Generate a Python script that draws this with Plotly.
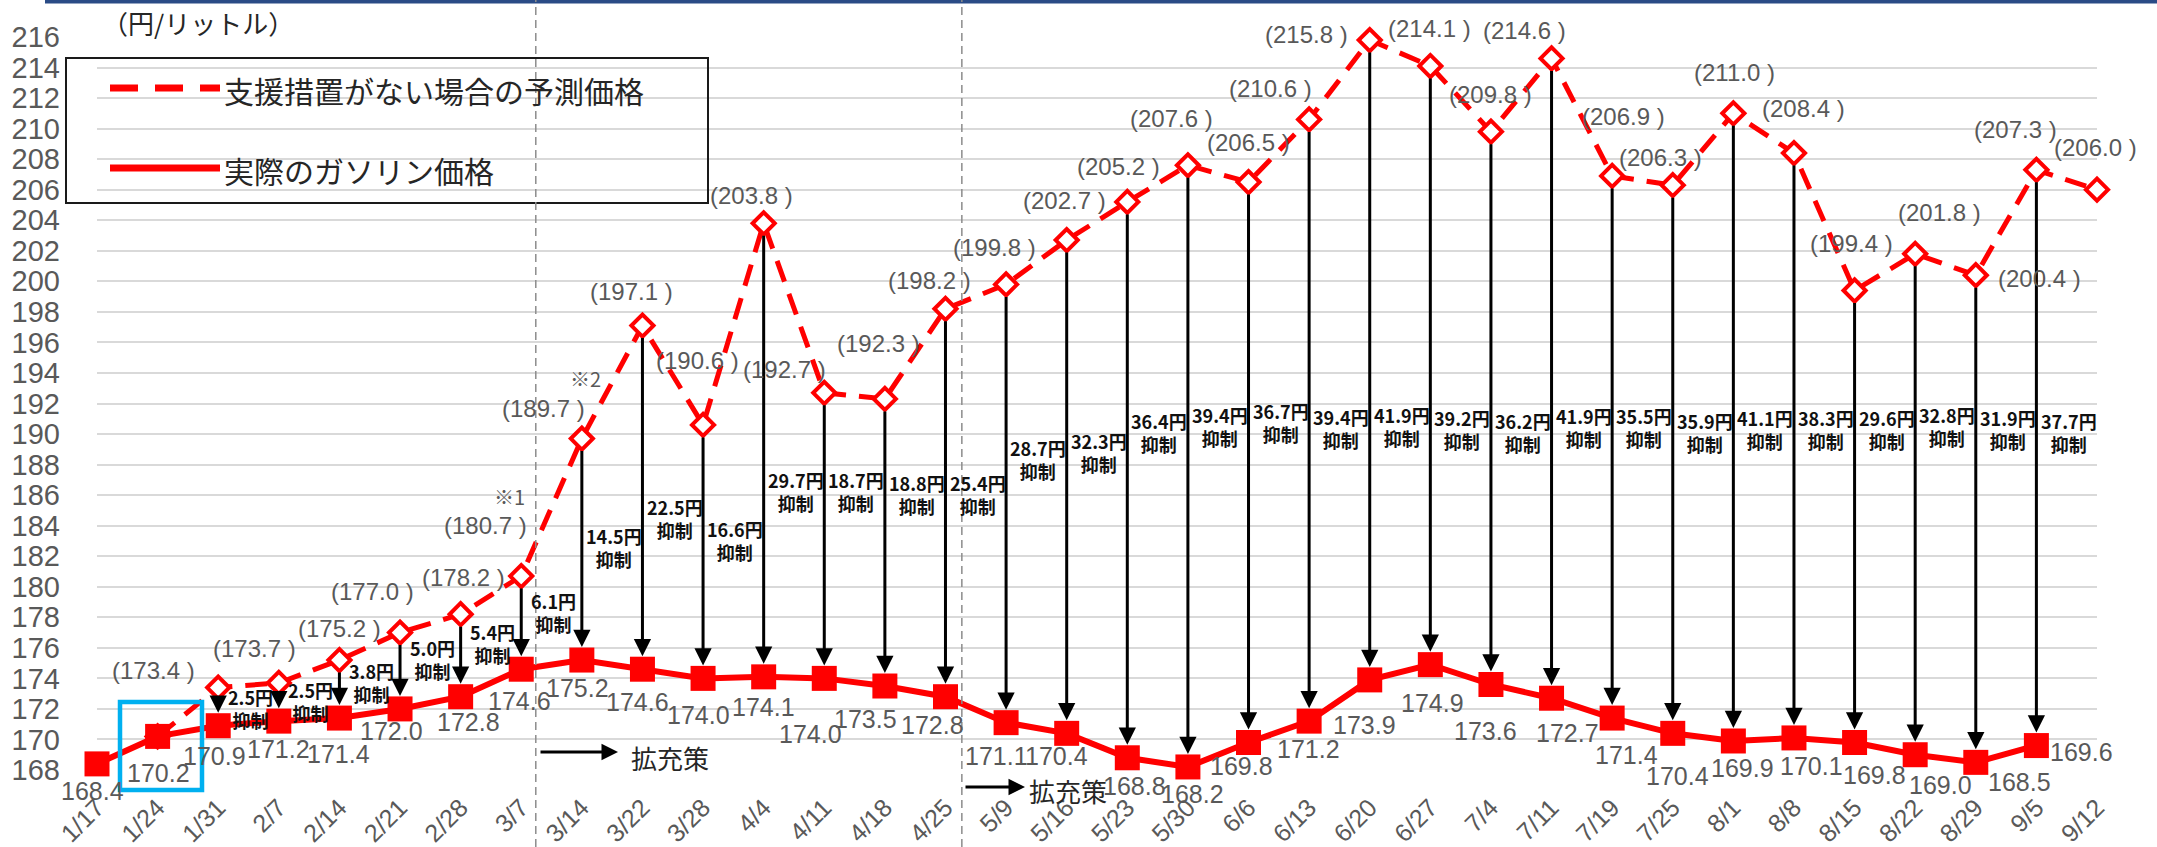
import plotly.graph_objects as go

# ---------------- data ----------------
dates = ["1/17", "1/24", "1/31", "2/7", "2/14", "2/21", "2/28", "3/7", "3/14", "3/22",
         "3/28", "4/4", "4/11", "4/18", "4/25", "5/9", "5/16", "5/23", "5/30", "6/6",
         "6/13", "6/20", "6/27", "7/4", "7/11", "7/19", "7/25", "8/1", "8/8", "8/15",
         "8/22", "8/29", "9/5", "9/12"]
actual = [168.4, 170.2, 170.9, 171.2, 171.4, 172.0, 172.8, 174.6, 175.2, 174.6,
          174.0, 174.1, 174.0, 173.5, 172.8, 171.1, 170.4, 168.8, 168.2, 169.8,
          171.2, 173.9, 174.9, 173.6, 172.7, 171.4, 170.4, 169.9, 170.1, 169.8,
          169.0, 168.5, 169.6, None]
predicted = [None, 170.2, 173.4, 173.7, 175.2, 177.0, 178.2, 180.7, 189.7, 197.1,
             190.6, 203.8, 192.7, 192.3, 198.2, 199.8, 202.7, 205.2, 207.6, 206.5,
             210.6, 215.8, 214.1, 209.8, 214.6, 206.9, 206.3, 211.0, 208.4, 199.4,
             201.8, 200.4, 207.3, 206.0]
suppression = [None, None, 2.5, 2.5, 3.8, 5.0, 5.4, 6.1, 14.5, 22.5,
               16.6, 29.7, 18.7, 18.8, 25.4, 28.7, 32.3, 36.4, 39.4, 36.7,
               39.4, 41.9, 39.2, 36.2, 41.9, 35.5, 35.9, 41.1, 38.3, 29.6,
               32.8, 31.9, 37.7, None]
notes = {7: "※1", 8: "※2"}
name_pred = "支援措置がない場合の予測価格"
name_act = "実際のガソリン価格"
y_title = "（円/リットル）"
policy_text = "拡充策"

# ---------------- layout helpers (positions / styles) ----------------
W, H = 2157, 847
L, R, T, B = 97, 60, 37, 77
PW, PH = W - L - R, H - T - B
RED = "#FF0000"
GRAY = "#595959"
NUM_FONT = "Liberation Sans, Arial, sans-serif"
JP_FONT = "Noto Sans CJK JP, sans-serif"


def pp(px, py):
    """pixel -> paper coordinates"""
    return (px - L) / PW, (H - B - py) / PH


# label offsets in pixels (dx right, dy down)
act_off = [(-5, 27), (1, 37), (-4, 30), (0, 28), (-1, 36), (-9, 22), (8, 25), (-2, 32),
           (-4, 28), (-5, 33), (-5, 37), (0, 30), (-14, 56), (-19, 33), (-13, 28),
           (-10, 33), (-10, 23), (7, 28), (5, 27), (-7, 23), (-1, 28), (-5, 45),
           (2, 38), (-5, 47), (16, 35), (14, 37), (5, 43), (9, 27), (18, 28),
           (20, 32), (25, 30), (44, 20), (45, 6), None]
pred_off = [None, None, (-65, -17), (-24, -34), (0, -32), (-28, -41), (3, -37), (-36, -51),
            (-38, -30), (-11, -34), (-6, -64), (-12, -28), (-40, -23), (-6, -55),
            (-16, -28), (-12, -37), (-2, -40), (-9, -35), (-16, -47), (0, -40),
            (-39, -31), (-63, -6), (-1, -38), (0, -37), (-27, -28), (11, -59),
            (-12, -28), (1, -41), (10, -45), (-3, -47), (24, -41), (64, 3),
            (-21, -40), (-2, -42)]
note_off = {7: (-12, -80), 8: (4, -60)}
# vertical position (axis units) of the "xx円 抑制" labels
sup_label_y = [None, None, 172.0, 172.5, 173.75, 175.25, 176.3, 178.3, 182.6, 184.5,
               183.0, 186.25, 186.25, 186.05, 186.05, 188.35, 188.8, 190.1, 190.5,
               190.75, 190.35, 190.5, 190.3, 190.1, 190.4, 190.4, 190.1, 190.3,
               190.3, 190.3, 190.5, 190.3, 190.1, None]

fig = go.Figure()

fig.add_trace(go.Scatter(
    x=dates, y=predicted, name=name_pred, mode="lines+markers",
    line=dict(color=RED, width=5, dash="22px,13px"),
    marker=dict(symbol="diamond", size=17, color="white", line=dict(color=RED, width=4)),
    cliponaxis=False, showlegend=False))
fig.add_trace(go.Scatter(
    x=dates, y=actual, name=name_act, mode="lines+markers",
    line=dict(color=RED, width=6),
    marker=dict(symbol="square", size=25, color=RED),
    cliponaxis=False, showlegend=False))

ann = []
# arrows predicted -> actual
for i, s in enumerate(suppression):
    if s is None:
        continue
    ann.append(dict(x=dates[i], y=actual[i], ax=dates[i], ay=predicted[i],
                    xref="x", yref="y", axref="x", ayref="y", text="",
                    showarrow=True, arrowhead=2, arrowsize=1.15, arrowwidth=3,
                    arrowcolor="black", standoff=13, startstandoff=11))
    ann.append(dict(x=i + 0.53, y=sup_label_y[i], xref="x", yref="y",
                    text=f"{s:.1f}円<br>抑制", showarrow=False,
                    font=dict(family=JP_FONT, size=18, color="#111111", weight="bold"),
                    xanchor="center", yanchor="middle"))

# value labels
for i, v in enumerate(actual):
    if v is None:
        continue
    dx, dy = act_off[i]
    ann.append(dict(x=dates[i], y=v, text=f"{v:.1f}", showarrow=False,
                    xshift=dx, yshift=-dy, xanchor="center", yanchor="middle",
                    font=dict(family=NUM_FONT, size=25, color=GRAY)))
for i, v in enumerate(predicted):
    if v is None or pred_off[i] is None:
        continue
    dx, dy = pred_off[i]
    ann.append(dict(x=dates[i], y=v, text=f"({v:.1f} )", showarrow=False,
                    xshift=dx, yshift=-dy, xanchor="center", yanchor="middle",
                    font=dict(family=NUM_FONT, size=24, color=GRAY)))
for i, t in notes.items():
    dx, dy = note_off[i]
    ann.append(dict(x=dates[i], y=predicted[i], text=t, showarrow=False,
                    xshift=dx, yshift=-dy, xanchor="center", yanchor="middle",
                    font=dict(family=JP_FONT, size=20, color=GRAY)))

# 拡充策 arrows (pixel positions: tail x, head x, y, text x, text y)
for (tx0, hx, yy, txx, tyy) in [(539, 618, 752, 629, 757),
                                (964, 1025, 787, 1027, 790)]:
    px_, py_ = pp(hx, yy)
    ann.append(dict(x=px_, y=py_, xref="paper", yref="paper", ax=tx0 - hx, ay=0,
                    axref="pixel", ayref="pixel", text="", showarrow=True,
                    arrowhead=2, arrowsize=1.1, arrowwidth=3, arrowcolor="black"))
    qx, qy = pp(txx, tyy)
    ann.append(dict(x=qx, y=qy, xref="paper", yref="paper", text=policy_text,
                    showarrow=False, xanchor="left", yanchor="middle",
                    font=dict(family=JP_FONT, size=26, color="#262626")))

# y-axis unit
ux, uy = pp(100, 23)
ann.append(dict(x=ux, y=uy, xref="paper", yref="paper", text=y_title, showarrow=False,
                xanchor="left", yanchor="middle",
                font=dict(family=JP_FONT, size=26, color="#262626")))

# custom legend
lx0, ly0 = pp(66, 58)
lx1, ly1 = pp(708, 203)
sx0, sy1 = pp(110, 88)
sx1, sy2 = pp(220, 168)
tx, ty1 = pp(222, 90)
_, ty2 = pp(222, 170)
ann.append(dict(x=tx, y=ty1, xref="paper", yref="paper", text=name_pred, showarrow=False,
                xanchor="left", yanchor="middle",
                font=dict(family=JP_FONT, size=30, color="#262626")))
ann.append(dict(x=tx, y=ty2, xref="paper", yref="paper", text=name_act, showarrow=False,
                xanchor="left", yanchor="middle",
                font=dict(family=JP_FONT, size=30, color="#262626")))

shapes = []
shapes.append(dict(type="rect", xref="paper", yref="paper", x0=lx0, x1=lx1, y0=ly1, y1=ly0,
                   line=dict(color="#1a1a1a", width=2), fillcolor="rgba(0,0,0,0)"))
shapes.append(dict(type="line", xref="paper", yref="paper", x0=sx0, x1=sx1, y0=sy1, y1=sy1,
                   line=dict(color=RED, width=7, dash="28px,17px")))
shapes.append(dict(type="line", xref="paper", yref="paper", x0=sx0, x1=sx1, y0=sy2, y1=sy2,
                   line=dict(color=RED, width=7)))
# top rule
bx0, by = pp(45, 1.5)
bx1, _ = pp(W, 1.5)
shapes.append(dict(type="line", xref="paper", yref="paper", x0=bx0, x1=bx1, y0=by, y1=by,
                   line=dict(color="#2a4b86", width=4)))
# dashed separators
_, ytop = pp(0, 0)
_, ybot = pp(0, H)
for xv in (7.24, 14.27):
    shapes.append(dict(type="line", xref="x", yref="paper", x0=xv, x1=xv, y0=ybot, y1=ytop,
                       line=dict(color="#8c8c8c", width=1.5, dash="8px,5px")))
# highlight box around 1/24
hx0, hy0 = pp(120, 790)
hx1, hy1 = pp(202, 702)
shapes.append(dict(type="rect", xref="paper", yref="paper", x0=hx0, x1=hx1, y0=hy0, y1=hy1,
                   line=dict(color="#00B0F0", width=4.5)))

fig.update_layout(
    width=W, height=H, margin=dict(l=L, r=R, t=T, b=B, pad=0, autoexpand=False),
    paper_bgcolor="white", plot_bgcolor="white",
    annotations=ann, shapes=shapes, showlegend=False,
    xaxis=dict(type="category", categoryorder="array", categoryarray=dates,
               range=[0, len(dates) - 1], showgrid=False, zeroline=False, showline=False,
               ticks="", tickangle=-45, ticklabelstandoff=17, automargin=False,
               tickfont=dict(family=NUM_FONT, size=25, color=GRAY)),
    yaxis=dict(range=[168, 216], dtick=2, tick0=168, showgrid=True, gridcolor="#d9d9d9",
               gridwidth=2, zeroline=False, showline=False, ticks="", automargin=False,
               ticklabelstandoff=36,
               tickfont=dict(family=NUM_FONT, size=29, color=GRAY)),
)

fig.write_html("out.html")
